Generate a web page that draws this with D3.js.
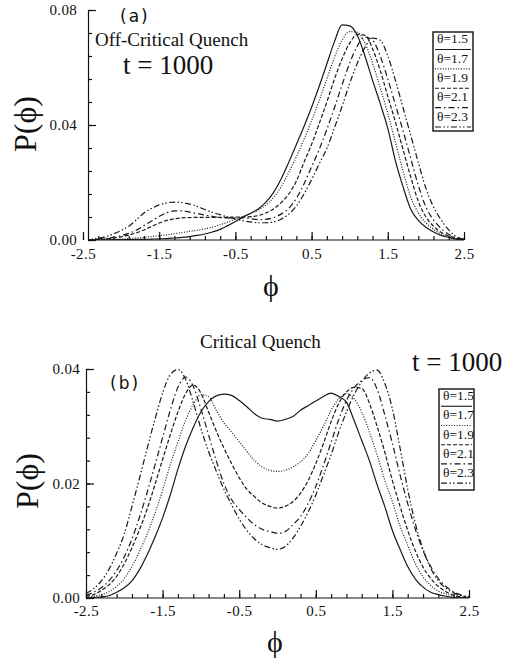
<!DOCTYPE html>
<html>
<head>
<meta charset="utf-8">
<script src="https://cdn.jsdelivr.net/npm/d3@7"></script>
<style>
  body { margin: 0; background: #fff; }
  svg text { font-family: "Liberation Serif", "Times New Roman", serif; fill: #111; }
</style>
</head>
<body>
<svg id="chart" width="506" height="660"></svg>
<script>
// x grid shared by every curve
const phi = [-2.5,-2.4,-2.3,-2.2,-2.1,-2.0,-1.9,-1.8,-1.7,-1.6,
  -1.5,-1.4,-1.3,-1.2,-1.1,-1.0,-0.9,-0.8,-0.7,-0.6,
  -0.5,-0.4,-0.3,-0.2,-0.1,0.0,0.1,0.2,0.3,0.4,
  0.5,0.6,0.7,0.8,0.9,1.0,1.1,1.2,1.3,1.4,
  1.5,1.6,1.7,1.8,1.9,2.0,2.1,2.2,2.3,2.4,2.5];

const thetaLabels = ["\u03b8=1.5", "\u03b8=1.7", "\u03b8=1.9", "\u03b8=2.1", "\u03b8=2.3"];
const xTicks = [-2.5, -1.5, -0.5, 0.5, 1.5, 2.5];
const xTickLabels = ["-2.5", "-1.5", "-0.5", "0.5", "1.5", "2.5"];
const yTicksA = [0, 0.04, 0.08];
const yTickLabelsA = ["0.00", "0.04", "0.08"];
const yTicksB = [0, 0.02, 0.04];
const yTickLabelsB = ["0.00", "0.02", "0.04"];

// (a) off-critical quench
const offCrit15 = [0,0,0,0,0.0001,0.0001,0.0001,0.0002,0.0002,0.0003,
  0.0004,0.0005,0.0007,0.0009,0.0012,0.0016,0.0021,0.0028,0.0037,0.0050,
  0.0064,0.0080,0.0093,0.0108,0.0132,0.0165,0.0212,0.0270,0.0332,0.0395,
  0.0462,0.0535,0.0612,0.0690,0.0748,0.0745,0.0712,0.0640,0.0555,0.0475,
  0.0388,0.0275,0.0185,0.0108,0.0068,0.0044,0.0028,0.0016,0.0009,0.0003,0.0001];
const offCrit17 = [0,0,0.0001,0.0001,0.0002,0.0003,0.0005,0.0007,0.0009,0.0012,
  0.0015,0.0018,0.0022,0.0026,0.0030,0.0034,0.0039,0.0045,0.0053,0.0062,
  0.0072,0.0082,0.0092,0.0104,0.0122,0.0148,0.0185,0.0235,0.0290,0.0350,
  0.0415,0.0485,0.0560,0.0635,0.0695,0.0725,0.0722,0.0685,0.0615,0.0530,
  0.0440,0.0340,0.0240,0.0150,0.0095,0.0060,0.0037,0.0021,0.0011,0.0004,0.0001];
const offCrit19 = [0,0.0001,0.0002,0.0004,0.0007,0.0011,0.0017,0.0025,0.0035,0.0047,
  0.0059,0.0068,0.0074,0.0077,0.0078,0.0079,0.0079,0.0079,0.0079,0.0079,
  0.0080,0.0080,0.0081,0.0085,0.0094,0.0108,0.0130,0.0160,0.0205,0.0270,
  0.0333,0.0405,0.0480,0.0560,0.0630,0.0685,0.0715,0.0712,0.0665,0.0590,
  0.0500,0.0410,0.0315,0.0220,0.0135,0.0080,0.0048,0.0027,0.0014,0.0006,0.0002];
const offCrit21 = [0,0.0001,0.0003,0.0006,0.0009,0.0015,0.0023,0.0034,0.0050,0.0066,
  0.0082,0.0095,0.0101,0.0101,0.0097,0.0092,0.0087,0.0082,0.0078,0.0077,
  0.0077,0.0077,0.0074,0.0071,0.0072,0.0078,0.0090,0.0110,0.0145,0.0195,
  0.0255,0.0315,0.0385,0.0460,0.0540,0.0615,0.0675,0.0706,0.0695,0.0640,
  0.0560,0.0470,0.0380,0.0285,0.0190,0.0115,0.0070,0.0040,0.0020,0.0008,0.0002];
const offCrit23 = [0,0.0002,0.0006,0.0012,0.0021,0.0033,0.0048,0.0070,0.0094,0.0110,
  0.0122,0.0129,0.0132,0.0130,0.0125,0.0117,0.0106,0.0096,0.0088,0.0080,
  0.0073,0.0067,0.0063,0.0060,0.0060,0.0063,0.0072,0.0090,0.0118,0.0160,
  0.0210,0.0265,0.0318,0.0390,0.0465,0.0545,0.0615,0.0670,0.0702,0.0695,
  0.0640,0.0555,0.0460,0.0365,0.0270,0.0180,0.0115,0.0070,0.0035,0.0012,0.0003];

// (b) critical quench
const crit15 = [0,0.0001,0.0002,0.0004,0.0010,0.0018,0.0030,0.0050,0.0076,0.0106,
  0.0140,0.0180,0.0225,0.0265,0.0298,0.0325,0.0343,0.0353,0.0356,0.0354,
  0.0345,0.0334,0.0322,0.0314,0.0312,0.0309,0.0312,0.0317,0.0328,0.0336,
  0.0344,0.0352,0.0358,0.0352,0.0342,0.0310,0.0275,0.0240,0.0198,0.0160,
  0.0118,0.0085,0.0055,0.0033,0.0019,0.0010,0.0006,0.0003,0.0001,0,0];
const crit17 = [0.0001,0.0003,0.0006,0.0011,0.0020,0.0034,0.0055,0.0082,0.0112,0.0148,
  0.0188,0.0233,0.0272,0.0310,0.0338,0.0355,0.0352,0.0328,0.0306,0.0290,
  0.0273,0.0256,0.0240,0.0229,0.0223,0.0221,0.0223,0.0229,0.0238,0.0252,
  0.0275,0.0300,0.0328,0.0348,0.0357,0.0348,0.0325,0.0290,0.0250,0.0206,
  0.0168,0.0126,0.0092,0.0060,0.0037,0.0022,0.0012,0.0007,0.0003,0.0001,0];
const crit19 = [0.0003,0.0006,0.0013,0.0023,0.0038,0.0060,0.0088,0.0120,0.0156,0.0198,
  0.0242,0.0285,0.0325,0.0357,0.0372,0.0358,0.0325,0.0292,0.0262,0.0235,
  0.0210,0.0190,0.0177,0.0166,0.0160,0.0157,0.0160,0.0168,0.0183,0.0205,
  0.0235,0.0270,0.0308,0.0340,0.0360,0.0368,0.0366,0.0340,0.0300,0.0255,
  0.0205,0.0160,0.0118,0.0082,0.0054,0.0034,0.0020,0.0011,0.0005,0.0002,0.0001];
const crit21 = [0.0005,0.0010,0.0018,0.0030,0.0048,0.0072,0.0103,0.0142,0.0185,0.0232,
  0.0280,0.0328,0.0368,0.0386,0.0370,0.0330,0.0285,0.0240,0.0200,0.0172,
  0.0155,0.0140,0.0128,0.0120,0.0116,0.0113,0.0116,0.0128,0.0142,0.0165,
  0.0195,0.0232,0.0272,0.0312,0.0345,0.0367,0.0380,0.0385,0.0365,0.0320,
  0.0270,0.0215,0.0165,0.0120,0.0083,0.0055,0.0034,0.0020,0.0011,0.0005,0.0002];
const crit23 = [0.0008,0.0016,0.0030,0.0050,0.0078,0.0112,0.0160,0.0210,0.0262,0.0312,
  0.0358,0.0390,0.0399,0.0382,0.0342,0.0296,0.0256,0.0222,0.0190,0.0163,
  0.0138,0.0118,0.0103,0.0093,0.0088,0.0085,0.0090,0.0104,0.0125,0.0150,
  0.0180,0.0215,0.0250,0.0290,0.0325,0.0355,0.0378,0.0393,0.0398,0.0375,
  0.0330,0.0262,0.0190,0.0130,0.0085,0.0052,0.0030,0.0017,0.0009,0.0004,0.0002];

// line style per theta (solid, dotted, dashed, dash-dot, dash-dot-dot)
const dashes = [null, "1,1.6", "4,2", "6,3,1.5,3", "6,2.5,1.5,2,1.5,2.5"];

const svg = d3.select("#chart");

function drawPanel(cfg) {
  const x = d3.scaleLinear().domain([-2.5, 2.5]).range(cfg.xRange);
  const y = d3.scaleLinear().domain(cfg.yDomain).range(cfg.yRange);
  const g = svg.append("g");

  const clipId = "clip" + cfg.id;
  svg.append("clipPath").attr("id", clipId).append("rect")
    .attr("x", cfg.axisX).attr("y", cfg.yRange[1] - 10)
    .attr("width", cfg.xRange[1] - cfg.axisX + 2)
    .attr("height", cfg.yRange[0] - cfg.yRange[1] + 10);

  // minor x ticks
  const xMinor = d3.axisBottom(x).tickValues(d3.range(-2.5, 2.51, 0.2)).tickSize(-4).tickFormat("");
  g.append("g").attr("transform", `translate(0,${cfg.yRange[0]})`).call(xMinor)
    .call(a => a.select(".domain").remove());
  // major x ticks
  const xAxis = d3.axisBottom(x).tickValues(xTicks).tickSizeInner(-8).tickSizeOuter(0)
    .tickPadding(cfg.xPad).tickFormat((d, i) => xTickLabels[i]);
  const xa = g.append("g").attr("transform", `translate(0,${cfg.yRange[0]})`).call(xAxis);
  xa.select(".domain").attr("d", `M${cfg.axisX},0H${cfg.xRange[1]}`);
  xa.selectAll("text").style("font-size", "15px").style("letter-spacing", "0.5px");

  // minor y ticks
  const yMinor = d3.axisLeft(y).tickValues(d3.range(cfg.yDomain[0], cfg.yDomain[1] + 1e-9, cfg.yMinorStep))
    .tickSize(-4).tickFormat("");
  g.append("g").attr("transform", `translate(${cfg.axisX},0)`).call(yMinor)
    .call(a => a.select(".domain").remove());
  // major y ticks
  const yAxis = d3.axisLeft(y).tickValues(cfg.yTicks).tickSizeInner(-8).tickSizeOuter(0)
    .tickPadding(cfg.yPad).tickFormat((d, i) => cfg.yTickLabels[i]);
  const ya = g.append("g").attr("transform", `translate(${cfg.axisX},0)`).call(yAxis);
  ya.selectAll("text").style("font-size", "15px").style("letter-spacing", "0.3px");

  g.selectAll(".domain, .tick line").attr("stroke", "#111").attr("stroke-width", 1.2);

  // curves
  const line = d3.line().x((d, i) => x(phi[i])).y(d => y(d)).curve(d3.curveMonotoneX);
  const curves = g.append("g").attr("clip-path", `url(#${clipId})`);
  cfg.series.forEach((s, k) => {
    curves.append("path").datum(s)
      .attr("fill", "none").attr("stroke", "#1a1a1a").attr("stroke-width", 1.2)
      .attr("stroke-dasharray", dashes[k])
      .attr("d", line);
  });

  // axis titles
  g.append("text").attr("transform", `translate(${cfg.pLabel[0]},${cfg.pLabel[1]}) rotate(-90)`)
    .attr("text-anchor", "middle").attr("dominant-baseline", "central")
    .style("font-size", "32px").text("P(\u03d5)");
  g.append("text").attr("x", cfg.phiLabel[0]).attr("y", cfg.phiLabel[1])
    .attr("text-anchor", "middle").style("font-size", "30px").text("\u03d5");

  // legend
  const lg = cfg.legend;
  g.append("rect").attr("x", lg.x).attr("y", lg.y).attr("width", lg.w).attr("height", lg.h)
    .attr("fill", "#fff").attr("stroke", "#111").attr("stroke-width", 1.4);
  thetaLabels.forEach((t, k) => {
    const top = lg.y + k * lg.step;
    g.append("text").attr("x", lg.x + 4).attr("y", top + lg.step * 0.58)
      .style("font-size", "13.5px").text(t);
    g.append("line").attr("x1", lg.x + 2).attr("x2", lg.x + lg.w - 2)
      .attr("y1", top + lg.step * 0.9).attr("y2", top + lg.step * 0.9)
      .attr("stroke", "#1a1a1a").attr("stroke-width", 1.1)
      .attr("stroke-dasharray", dashes[k]);
  });
  return g;
}

const ga = drawPanel({
  id: "a", xRange: [83, 464], axisX: 88, yDomain: [0, 0.08], yRange: [240, 10],
  yTicks: yTicksA, yTickLabels: yTickLabelsA, yMinorStep: 0.008, xPad: 8, yPad: 11,
  series: [offCrit15, offCrit17, offCrit19, offCrit21, offCrit23],
  pLabel: [25, 124], phiLabel: [271, 296],
  legend: { x: 433, y: 32, w: 40, h: 99, step: 19.4 }
});
ga.append("text").attr("x", 120).attr("y", 22).style("font-family", "'DejaVu Sans', sans-serif")
  .style("font-size", "17px").style("letter-spacing", "2px").text("(a)");
ga.append("text").attr("x", 95).attr("y", 46).style("font-size", "19px").text("Off-Critical Quench");
ga.append("text").attr("x", 123).attr("y", 74).style("font-size", "27px").text("t = 1000");

const gb = drawPanel({
  id: "b", xRange: [86, 469], axisX: 86, yDomain: [0, 0.04], yRange: [598, 369],
  yTicks: yTicksB, yTickLabels: yTickLabelsB, yMinorStep: 0.004, xPad: 7, yPad: 6,
  series: [crit15, crit17, crit19, crit21, crit23],
  pLabel: [27, 481], phiLabel: [275, 652],
  legend: { x: 439, y: 389, w: 35, h: 101, step: 19.2 }
});
gb.append("text").attr("x", 200).attr("y", 348).style("font-size", "19px").text("Critical Quench");
gb.append("text").attr("x", 412).attr("y", 371).style("font-size", "27px").text("t = 1000");
gb.append("text").attr("x", 110).attr("y", 389).style("font-family", "'DejaVu Sans', sans-serif")
  .style("font-size", "17px").style("letter-spacing", "2px").text("(b)");
</script>
</body>
</html>
